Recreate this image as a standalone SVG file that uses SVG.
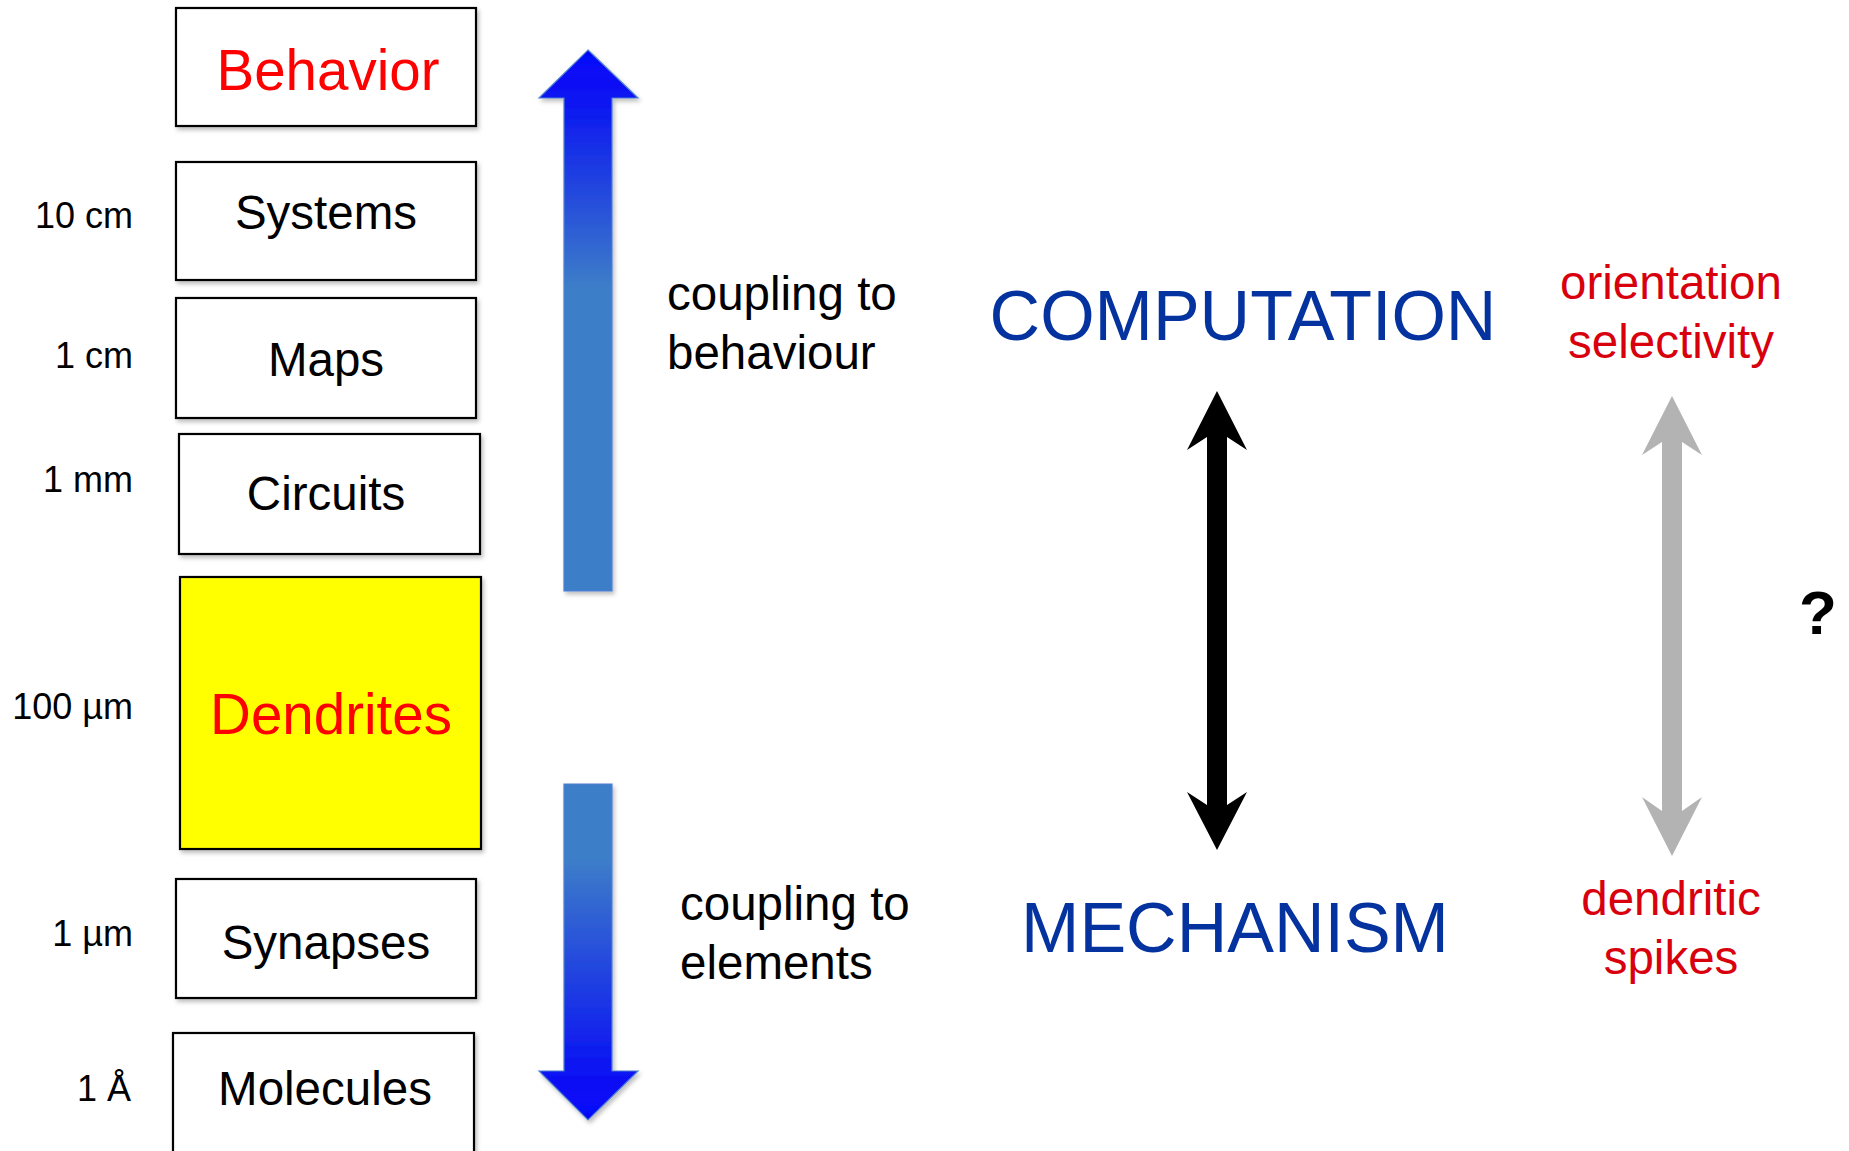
<svg xmlns="http://www.w3.org/2000/svg" width="1849" height="1151" viewBox="0 0 1849 1151">
  <defs>
    <style>
      .box { fill: #ffffff; stroke: #000000; stroke-width: 2.2; filter: url(#shadow); }
      .hl { fill: #ffff00; }
      .lbl { font-family: "Liberation Sans", Arial, sans-serif; font-size: 47.5px; fill: #000000; text-anchor: middle; }
      .red { fill: #ff0000; font-size: 56.5px; }
      .scale { font-family: "Liberation Sans", Arial, sans-serif; font-size: 36px; fill: #000000; text-anchor: end; }
      .note { font-family: "Liberation Sans", Arial, sans-serif; font-size: 47.5px; fill: #000000; }
      .big { font-family: "Liberation Sans", Arial, sans-serif; font-size: 70px; fill: #0433a0; text-anchor: middle; }
      .ex { font-family: "Liberation Sans", Arial, sans-serif; font-size: 47.5px; fill: #d8000c; text-anchor: middle; }
    </style>
    <filter id="shadow" x="-10%" y="-10%" width="125%" height="130%">
      <feDropShadow dx="2" dy="3" stdDeviation="2" flood-color="#000000" flood-opacity="0.25"/>
    </filter>
    <linearGradient id="gUp" x1="0" y1="50" x2="0" y2="591" gradientUnits="userSpaceOnUse">
      <stop offset="0" stop-color="#0505fa"/>
      <stop offset="0.09" stop-color="#0a14f2"/>
      <stop offset="0.44" stop-color="#3d7ec8"/>
      <stop offset="1" stop-color="#3d7ec8"/>
    </linearGradient>
    <linearGradient id="gDown" x1="0" y1="784" x2="0" y2="1120" gradientUnits="userSpaceOnUse">
      <stop offset="0" stop-color="#3d7ec8"/>
      <stop offset="0.22" stop-color="#3d7ec8"/>
      <stop offset="0.86" stop-color="#0a12f3"/>
      <stop offset="1" stop-color="#0505fa"/>
    </linearGradient>
  </defs>

  <rect width="1849" height="1151" fill="#ffffff"/>

  <!-- level boxes -->
  <g id="behavior">
    <rect class="box" x="176" y="8" width="300" height="118"/>
    <text class="lbl red" x="328" y="90">Behavior</text>
  </g>
  <g id="systems">
    <rect class="box" x="176" y="162" width="300" height="118"/>
    <text class="lbl" x="326" y="229">Systems</text>
  </g>
  <g id="maps">
    <rect class="box" x="176" y="298" width="300" height="120"/>
    <text class="lbl" x="326" y="376">Maps</text>
  </g>
  <g id="circuits">
    <rect class="box" x="179" y="434" width="301" height="120"/>
    <text class="lbl" x="326" y="510">Circuits</text>
  </g>
  <g id="dendrites">
    <rect class="box hl" x="180" y="577" width="301" height="272"/>
    <text class="lbl red" x="331" y="734">Dendrites</text>
  </g>
  <g id="synapses">
    <rect class="box" x="176" y="879" width="300" height="119"/>
    <text class="lbl" x="326" y="959">Synapses</text>
  </g>
  <g id="molecules">
    <rect class="box" x="173" y="1033" width="301" height="140"/>
    <text class="lbl" x="325" y="1105">Molecules</text>
  </g>

  <!-- size scale -->
  <g id="scale">
    <text class="scale" x="133" y="228">10 cm</text>
    <text class="scale" x="133" y="368">1 cm</text>
    <text class="scale" x="133" y="492">1 mm</text>
    <text class="scale" x="133" y="719">100 µm</text>
    <text class="scale" x="133" y="946">1 µm</text>
    <text class="scale" x="131" y="1101">1 Å</text>
  </g>

  <!-- connectors -->
  <g id="connectors">
    <path d="M588,50 L638,98 L612,98 L612,591 L564,591 L564,98 L539,98 Z" fill="url(#gUp)" stroke="#4f7fd2" stroke-width="1.2" filter="url(#shadow)"/>
    <path d="M564,784 L612,784 L612,1071 L638,1071 L588,1120 L539,1071 L564,1071 Z" fill="url(#gDown)" stroke="#4f7fd2" stroke-width="1.2" filter="url(#shadow)"/>
    <path d="M1217,391 L1247,450 L1227,437 L1227,805 L1247,792 L1217,850 L1187,792 L1207,805 L1207,437 L1187,450 Z" fill="#000000"/>
    <path d="M1672,396 L1702,455 L1682,442 L1682,811 L1702,797 L1672,856 L1642,797 L1662,811 L1662,442 L1642,455 Z" fill="#b3b3b3"/>
  </g>

  <!-- annotations -->
  <g id="coupling-up">
    <text class="note" x="667" y="310">coupling to</text>
    <text class="note" x="667" y="369">behaviour</text>
  </g>
  <g id="coupling-down">
    <text class="note" x="680" y="920">coupling to</text>
    <text class="note" x="680" y="979">elements</text>
  </g>
  <g id="computation">
    <text class="big" x="1243" y="340">COMPUTATION</text>
  </g>
  <g id="mechanism">
    <text class="big" x="1235" y="952">MECHANISM</text>
  </g>
  <g id="orientation">
    <text class="ex" x="1671" y="299">orientation</text>
    <text class="ex" x="1671" y="358">selectivity</text>
  </g>
  <g id="spikes">
    <text class="ex" x="1671" y="915">dendritic</text>
    <text class="ex" x="1671" y="974">spikes</text>
  </g>
  <g id="question">
    <text x="1818" y="634" font-family="'Liberation Sans', Arial, sans-serif" font-size="62" font-weight="bold" fill="#000000" text-anchor="middle">?</text>
  </g>
</svg>
